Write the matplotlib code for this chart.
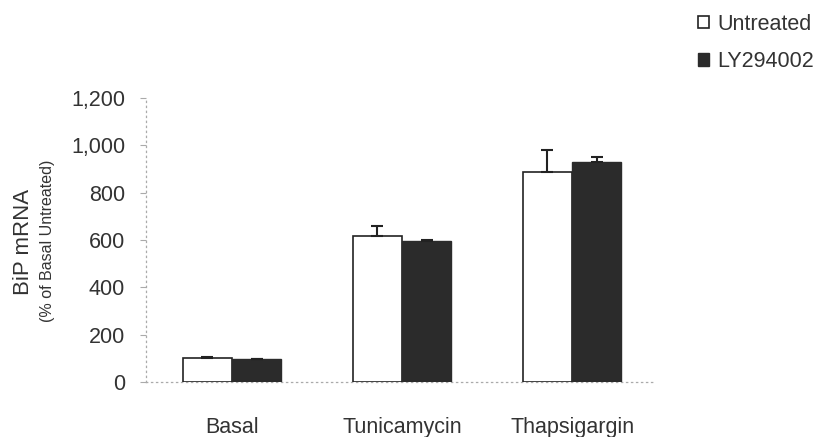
import numpy as np
import matplotlib.pyplot as plt

plt.rcParams['font.family'] = ['Liberation Sans', 'DejaVu Sans']

categories = ['Basal', 'Tunicamycin', 'Thapsigargin']
untreated = [100, 615, 885]
untreated_err = [5, 45, 95]
ly294002 = [97, 595, 930]
ly294002_err = [0, 3, 20]
yticks = [0, 200, 400, 600, 800, 1000, 1200]

text_color = '#333333'

fig = plt.figure(figsize=(8.25, 4.37), dpi=100)
ax = fig.add_axes([0.177, 0.126, 0.617, 0.65])

x = np.arange(len(categories))
w = 0.29

ax.bar(x - w/2, untreated, w, color='white', edgecolor='#222222', linewidth=1.2,
       yerr=[np.zeros(3), untreated_err], error_kw=dict(ecolor='#222222', elinewidth=1.5, capsize=4, capthick=1.5),
       label='Untreated', zorder=3)
ax.bar(x + w/2, ly294002, w, color='#2b2b2b', edgecolor='#2b2b2b', linewidth=1.0,
       yerr=[np.zeros(3), ly294002_err], error_kw=dict(ecolor='#222222', elinewidth=1.5, capsize=4, capthick=1.5),
       label='LY294002', zorder=3)

ax.set_xlim(-0.506, 2.488)
ax.set_ylim(0, 1200)
ax.set_xticks(x)
ax.set_xticklabels(categories, fontsize=15.5, color=text_color)
ax.set_yticks(yticks)
ax.set_yticklabels([f'{v:,}' for v in yticks], fontsize=15.5, color=text_color)
ax.tick_params(axis='x', length=0, pad=25)
ax.tick_params(axis='y', length=4, width=0.8, color='#aaaaaa', pad=11)

for side in ['top', 'right']:
    ax.spines[side].set_visible(False)
for side in ['left', 'bottom']:
    ax.spines[side].set_linestyle((0, (1, 3)))
    ax.spines[side].set_color('#aaaaaa')
    ax.spines[side].set_linewidth(0.9)

fig.text(0.029, 0.446, 'BiP mRNA', rotation=90, ha='center', va='center', fontsize=16, color=text_color)
fig.text(0.057, 0.448, '(% of Basal Untreated)', rotation=90, ha='center', va='center', fontsize=11.5, color=text_color)

leg = ax.legend(loc='upper left', bbox_to_anchor=(0.846, 0.968), bbox_transform=fig.transFigure,
                frameon=False, fontsize=15.5, handlelength=0.5, handleheight=0.5,
                handletextpad=0.4, labelspacing=0.75, borderaxespad=0, borderpad=0)
for t in leg.get_texts():
    t.set_color(text_color)

fig.savefig('out.png', dpi=100)
